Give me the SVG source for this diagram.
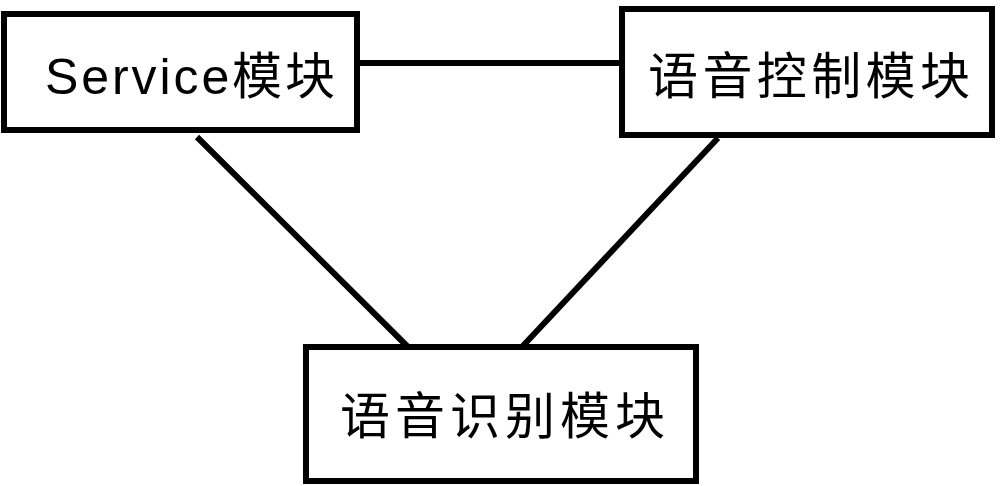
<svg xmlns="http://www.w3.org/2000/svg" width="1000" height="486" viewBox="0 0 1000 486">
<style>
.box{fill:#fff;stroke:#000;stroke-width:6}
.t{font-family:"Liberation Sans","Noto Sans CJK SC",sans-serif;font-size:50px;fill:#000}
.c{stroke:#000;stroke-width:6;fill:none}
</style>
<rect width="1000" height="486" fill="#fff"/>
<g id="connectors">
<line class="c" x1="357" y1="63" x2="622" y2="63"/>
<line class="c" x1="197" y1="137" x2="410" y2="349"/>
<line class="c" x1="718" y1="138" x2="520" y2="349"/>
</g>
<g id="service"><rect class="box" x="4" y="14" width="353" height="116"/><text class="t" x="45" y="94" textLength="290">Service模块</text></g>
<g id="voicectrl"><rect class="box" x="622" y="9" width="370" height="126"/><text class="t" x="648" y="94" textLength="322">语音控制模块</text></g>
<g id="voicerec"><rect class="box" x="306" y="347" width="390" height="134"/><text class="t" x="340" y="434" textLength="325">语音识别模块</text></g>
</svg>
